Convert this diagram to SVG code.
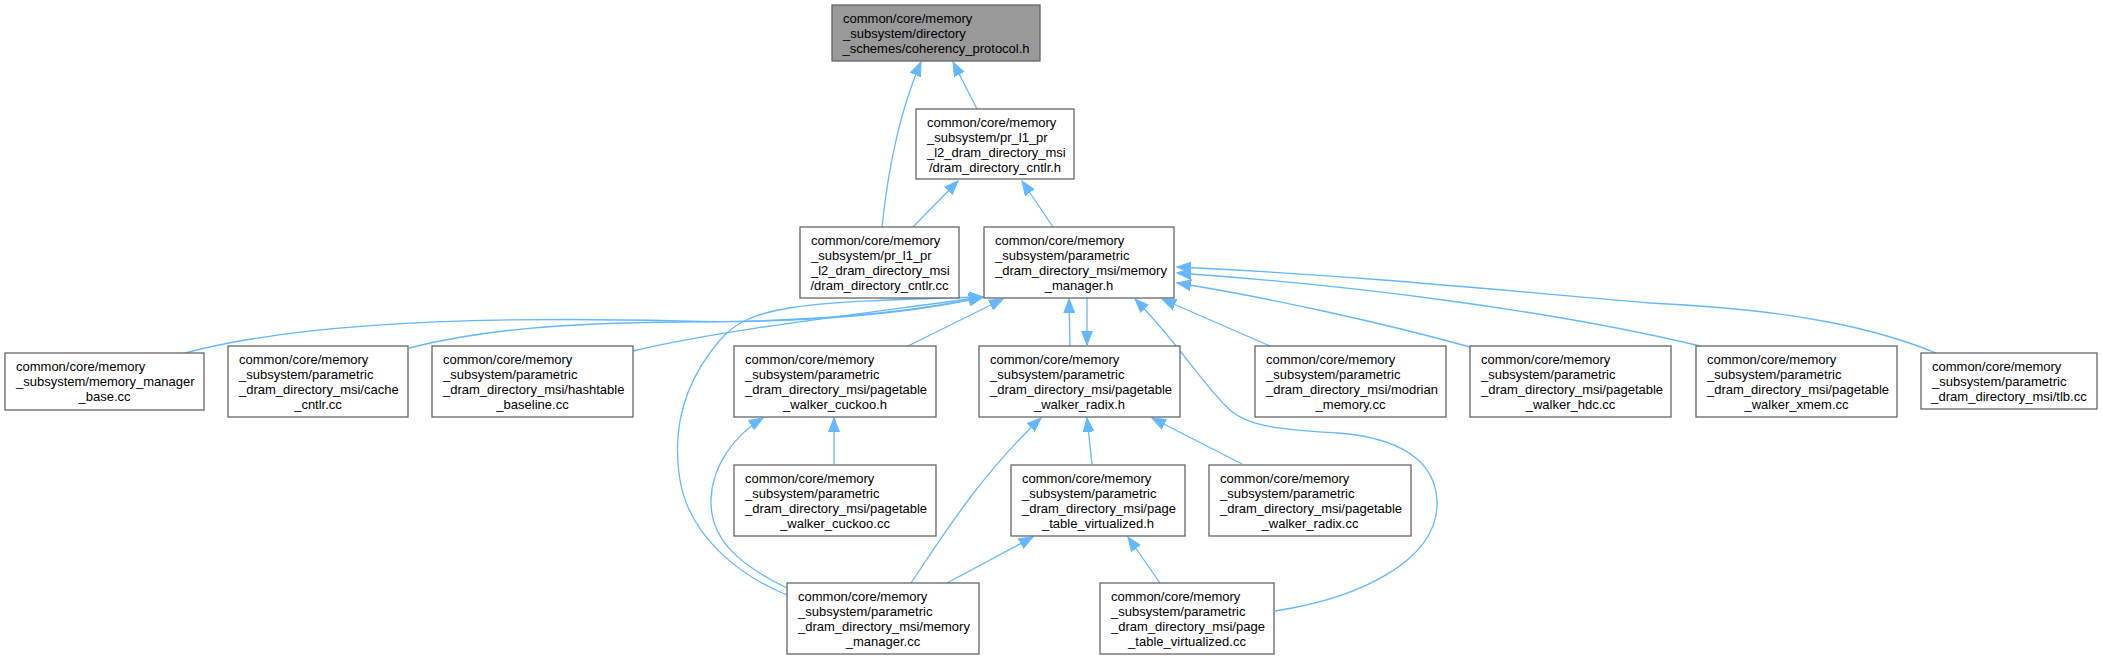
<svg xmlns="http://www.w3.org/2000/svg" width="2103" height="660" viewBox="0 0 2103 660">
<style>
.n rect{fill:#ffffff;stroke:#666666;stroke-width:1.3}
.root rect{fill:#999999}
.n text{font-family:"Liberation Sans",Arial,Helvetica,sans-serif;font-size:13px;fill:#000000}
.n text.c{text-anchor:middle}
.e path{fill:none;stroke:#63b8ff;stroke-width:1.3;marker-end:url(#arr)}
</style>
<defs>
<marker id="arr" markerUnits="userSpaceOnUse" markerWidth="15" markerHeight="12" viewBox="0 0 15 12" refX="14" refY="6" orient="auto">
<path d="M0,0.5 L14,6 L0,11.5 z" fill="#63b8ff" stroke="#63b8ff" stroke-width="1"/>
</marker>
</defs>
<rect width="2103" height="660" fill="#ffffff"/>
<g id="edges" class="e">
<path d="M882,227 C888,170 900,110 921,62"/>
<path d="M977,109 L953,62"/>
<path d="M913,227 L958,181"/>
<path d="M1053,227 L1022,181"/>
<path d="M185,353 C300,322 480,316 680,321 C780,324 900,316 983,297"/>
<path d="M409,348 C480,330 560,323 680,322 C790,322 900,315 983,297"/>
<path d="M633,351 C720,330 860,314 983,297"/>
<path d="M787,595 C745,578 690,540 680,480 C670,420 690,375 720,340 C750,305 800,302 983,297"/>
<path d="M908,346 L1003,299"/>
<path d="M1070,346 L1069,299"/>
<path d="M1087,298 L1087,345"/>
<path d="M1270,346 L1162,299"/>
<path d="M1470,347 C1380,322 1260,296 1177,283"/>
<path d="M1700,346 C1550,310 1350,285 1177,273"/>
<path d="M1936,353 C1880,330 1800,310 1650,303 C1500,290 1350,275 1177,267"/>
<path d="M1275,611 C1360,598 1440,560 1437,500 C1434,450 1380,436 1337,433 C1290,430 1250,428 1230,410 C1205,388 1180,345 1135,299"/>
<path d="M787,588 C740,565 710,540 711,500 C712,465 735,435 763,418"/>
<path d="M834,464 L834,418"/>
<path d="M911,583 C940,540 980,475 1041,418"/>
<path d="M1092,464 L1087,418"/>
<path d="M1242,464 L1152,418"/>
<path d="M947,583 L1033,537"/>
<path d="M1160,583 L1128,537"/>
</g>
<g id="root" class="n root">
<rect x="832" y="5" width="208" height="56"/>
<text x="843" y="23">common/core/memory</text>
<text x="843" y="38">_subsystem/directory</text>
<text class="c" x="936" y="53">_schemes/coherency_protocol.h</text>
</g>
<g id="dram_directory_cntlr_h" class="n">
<rect x="916" y="109" width="158" height="70"/>
<text x="927" y="127">common/core/memory</text>
<text x="927" y="142">_subsystem/pr_l1_pr</text>
<text x="927" y="157">_l2_dram_directory_msi</text>
<text class="c" x="995" y="172">/dram_directory_cntlr.h</text>
</g>
<g id="dram_directory_cntlr_cc" class="n">
<rect x="800" y="227" width="159" height="71"/>
<text x="811" y="245">common/core/memory</text>
<text x="811" y="260">_subsystem/pr_l1_pr</text>
<text x="811" y="275">_l2_dram_directory_msi</text>
<text class="c" x="879.5" y="290">/dram_directory_cntlr.cc</text>
</g>
<g id="memory_manager_h" class="n">
<rect x="984" y="227" width="190" height="71"/>
<text x="995" y="245">common/core/memory</text>
<text x="995" y="260">_subsystem/parametric</text>
<text x="995" y="275">_dram_directory_msi/memory</text>
<text class="c" x="1079" y="290">_manager.h</text>
</g>
<g id="memory_manager_base_cc" class="n">
<rect x="5" y="353" width="199" height="57"/>
<text x="16" y="371">common/core/memory</text>
<text x="16" y="386">_subsystem/memory_manager</text>
<text class="c" x="104.5" y="401">_base.cc</text>
</g>
<g id="cache_cntlr_cc" class="n">
<rect x="228" y="346" width="180" height="71"/>
<text x="239" y="364">common/core/memory</text>
<text x="239" y="379">_subsystem/parametric</text>
<text x="239" y="394">_dram_directory_msi/cache</text>
<text class="c" x="318" y="409">_cntlr.cc</text>
</g>
<g id="hashtable_baseline_cc" class="n">
<rect x="432" y="346" width="201" height="71"/>
<text x="443" y="364">common/core/memory</text>
<text x="443" y="379">_subsystem/parametric</text>
<text x="443" y="394">_dram_directory_msi/hashtable</text>
<text class="c" x="532.5" y="409">_baseline.cc</text>
</g>
<g id="pagetable_walker_cuckoo_h" class="n">
<rect x="734" y="346" width="202" height="71"/>
<text x="745" y="364">common/core/memory</text>
<text x="745" y="379">_subsystem/parametric</text>
<text x="745" y="394">_dram_directory_msi/pagetable</text>
<text class="c" x="835" y="409">_walker_cuckoo.h</text>
</g>
<g id="pagetable_walker_radix_h" class="n">
<rect x="979" y="346" width="201" height="71"/>
<text x="990" y="364">common/core/memory</text>
<text x="990" y="379">_subsystem/parametric</text>
<text x="990" y="394">_dram_directory_msi/pagetable</text>
<text class="c" x="1079.5" y="409">_walker_radix.h</text>
</g>
<g id="modrian_memory_cc" class="n">
<rect x="1255" y="346" width="191" height="71"/>
<text x="1266" y="364">common/core/memory</text>
<text x="1266" y="379">_subsystem/parametric</text>
<text x="1266" y="394">_dram_directory_msi/modrian</text>
<text class="c" x="1350.5" y="409">_memory.cc</text>
</g>
<g id="pagetable_walker_hdc_cc" class="n">
<rect x="1470" y="346" width="201" height="71"/>
<text x="1481" y="364">common/core/memory</text>
<text x="1481" y="379">_subsystem/parametric</text>
<text x="1481" y="394">_dram_directory_msi/pagetable</text>
<text class="c" x="1570.5" y="409">_walker_hdc.cc</text>
</g>
<g id="pagetable_walker_xmem_cc" class="n">
<rect x="1696" y="346" width="201" height="71"/>
<text x="1707" y="364">common/core/memory</text>
<text x="1707" y="379">_subsystem/parametric</text>
<text x="1707" y="394">_dram_directory_msi/pagetable</text>
<text class="c" x="1796.5" y="409">_walker_xmem.cc</text>
</g>
<g id="tlb_cc" class="n">
<rect x="1921" y="353" width="176" height="56"/>
<text x="1932" y="371">common/core/memory</text>
<text x="1932" y="386">_subsystem/parametric</text>
<text class="c" x="2009" y="401">_dram_directory_msi/tlb.cc</text>
</g>
<g id="pagetable_walker_cuckoo_cc" class="n">
<rect x="734" y="465" width="202" height="71"/>
<text x="745" y="483">common/core/memory</text>
<text x="745" y="498">_subsystem/parametric</text>
<text x="745" y="513">_dram_directory_msi/pagetable</text>
<text class="c" x="835" y="528">_walker_cuckoo.cc</text>
</g>
<g id="page_table_virtualized_h" class="n">
<rect x="1011" y="465" width="174" height="71"/>
<text x="1022" y="483">common/core/memory</text>
<text x="1022" y="498">_subsystem/parametric</text>
<text x="1022" y="513">_dram_directory_msi/page</text>
<text class="c" x="1098" y="528">_table_virtualized.h</text>
</g>
<g id="pagetable_walker_radix_cc" class="n">
<rect x="1209" y="465" width="202" height="71"/>
<text x="1220" y="483">common/core/memory</text>
<text x="1220" y="498">_subsystem/parametric</text>
<text x="1220" y="513">_dram_directory_msi/pagetable</text>
<text class="c" x="1310" y="528">_walker_radix.cc</text>
</g>
<g id="memory_manager_cc" class="n">
<rect x="787" y="583" width="192" height="71"/>
<text x="798" y="601">common/core/memory</text>
<text x="798" y="616">_subsystem/parametric</text>
<text x="798" y="631">_dram_directory_msi/memory</text>
<text class="c" x="883" y="646">_manager.cc</text>
</g>
<g id="page_table_virtualized_cc" class="n">
<rect x="1100" y="583" width="174" height="71"/>
<text x="1111" y="601">common/core/memory</text>
<text x="1111" y="616">_subsystem/parametric</text>
<text x="1111" y="631">_dram_directory_msi/page</text>
<text class="c" x="1187" y="646">_table_virtualized.cc</text>
</g>
</svg>
